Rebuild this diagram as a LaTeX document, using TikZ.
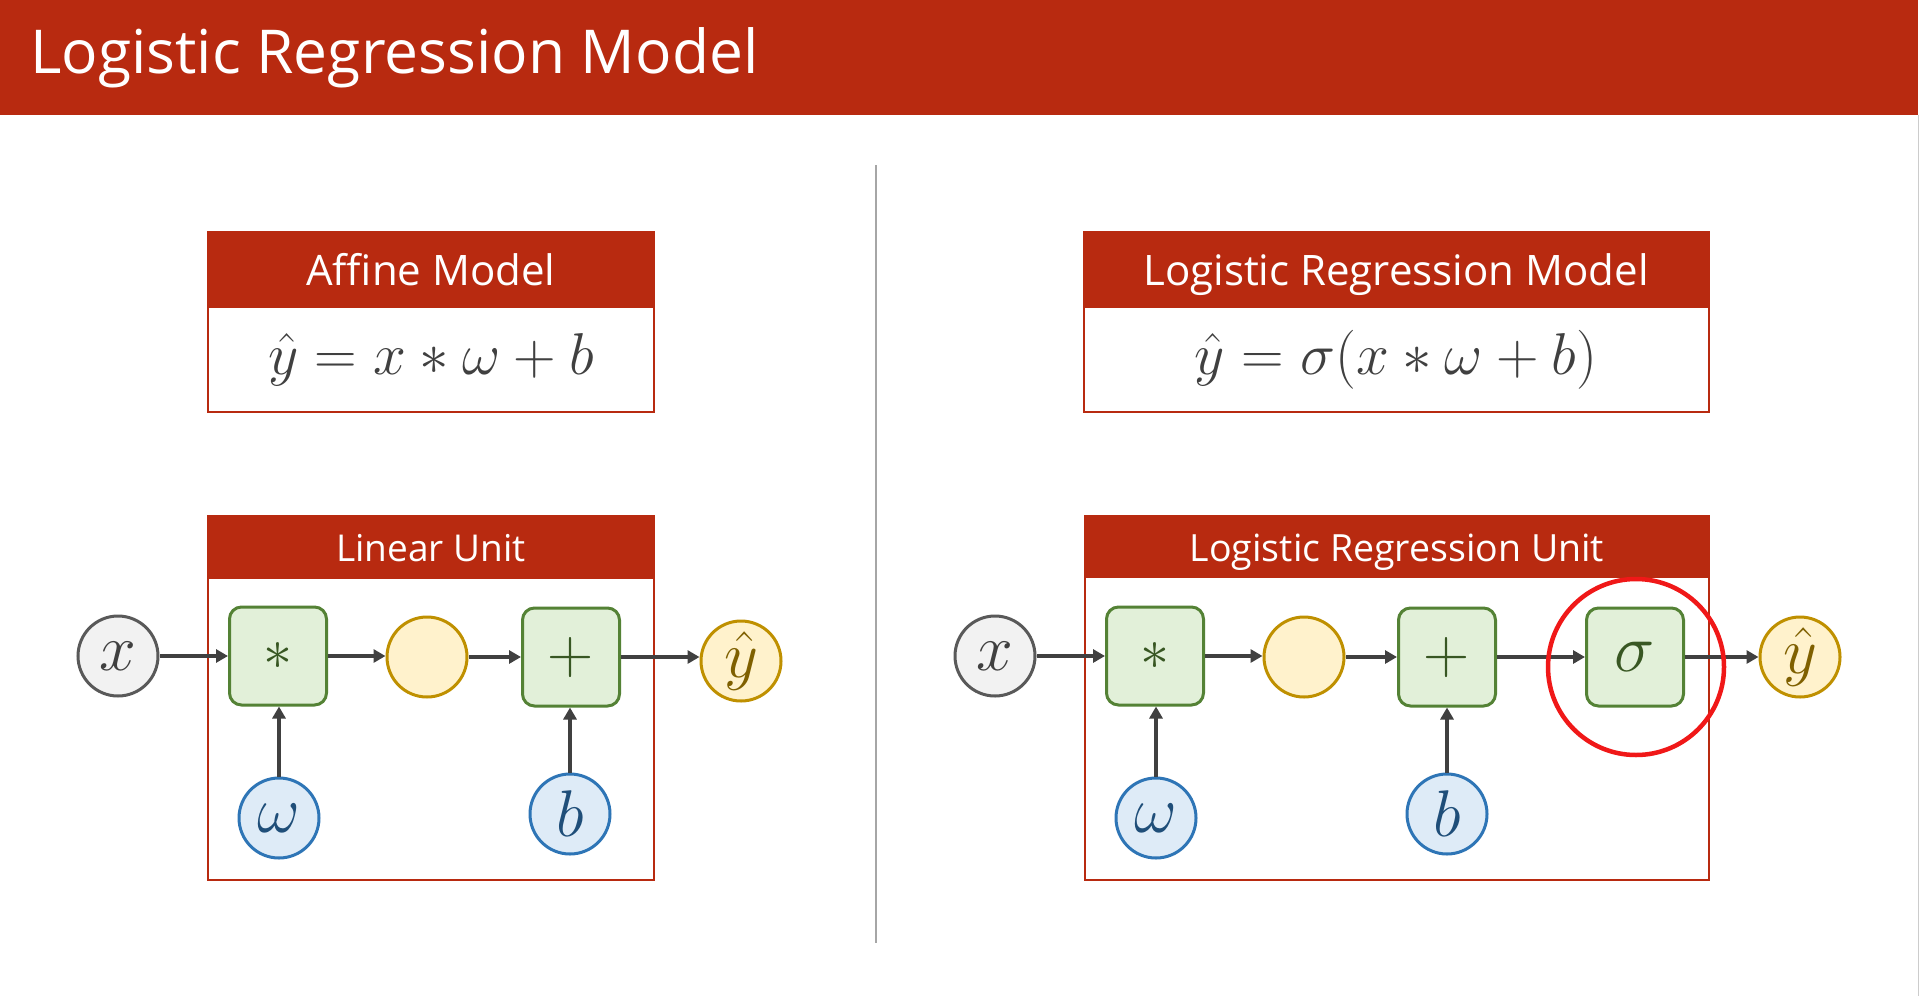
\RequirePackage{fix-cm}
\documentclass[tikz,border=0pt]{standalone}
\usepackage[no-math]{fontspec}
\setmainfont{Open Sans}
\usetikzlibrary{arrows.meta}
\definecolor{hdr}{RGB}{184,42,16}
\definecolor{hl}{RGB}{240,24,24}
\definecolor{arrowc}{RGB}{64,64,64}
\definecolor{grayb}{RGB}{89,89,89}
\definecolor{grayf}{RGB}{242,242,242}
\definecolor{grayt}{RGB}{64,64,64}
\definecolor{greenb}{RGB}{84,130,53}
\definecolor{greenf}{RGB}{226,240,217}
\definecolor{greent}{RGB}{56,87,35}
\definecolor{yelb}{RGB}{191,144,0}
\definecolor{yelf}{RGB}{255,242,204}
\definecolor{yelt}{RGB}{127,96,0}
\definecolor{blueb}{RGB}{46,117,182}
\definecolor{bluef}{RGB}{222,235,247}
\definecolor{bluet}{RGB}{31,78,121}
\definecolor{divc}{RGB}{166,166,166}
\begin{document}
\begin{tikzpicture}[x=1pt,y=-1pt,
  arr/.style={draw=arrowc, line width=3.2pt, -{Triangle[length=12pt,width=13pt]}},
  circ/.style={circle, minimum size=80pt, inner sep=0pt, line width=3pt, font=\fontsize{66}{70}\selectfont},
  gcirc/.style={circ, draw=grayb, fill=grayf, text=grayt},
  ycirc/.style={circ, draw=yelb, fill=yelf, text=yelt},
  bcirc/.style={circ, draw=blueb, fill=bluef, text=bluet},
  opbox/.style={rectangle, rounded corners=12pt, minimum width=97pt, minimum height=98pt, inner sep=0pt, line width=3pt, draw=greenb, fill=greenf, text=greent, font=\fontsize{64}{70}\selectfont},
  hdrtext/.style={anchor=base, text=white, inner sep=0pt},
  frame/.style={draw=hdr, line width=2.5pt},
  formula/.style={anchor=base, text=grayt, inner sep=0pt, font=\fontsize{59}{64}\selectfont}
]
\useasboundingbox (0,0) rectangle (1919,996);
\fill[white] (0,0) rectangle (1919,996);
% title bar
\fill[hdr] (0,0) rectangle (1918,115);
\draw[color=black!20, line width=1pt] (1918.5,115) -- (1918.5,996);
\node[anchor=base west, text=white, inner sep=0pt, font=\fontsize{60.5}{70}\selectfont] (title) at (30,73) {Logistic Regression Model};
% divider
\draw[divc, line width=1.5pt] (876,165) -- (876,943);

% ---------- top left box
\fill[hdr] (208,232) rectangle (654,308);
\draw[frame] (208,232) rectangle (654,412);
\node[hdrtext, font=\fontsize{42}{48}\selectfont] (affh) at (431,285) {Affine Model};
\node[formula] (afff) at (431,374) {$\hat{y} = x \ast \omega + b$};

% ---------- top right box
\fill[hdr] (1084,232) rectangle (1709,308);
\draw[frame] (1084,232) rectangle (1709,412);
\node[hdrtext, font=\fontsize{42}{48}\selectfont] (logh) at (1396,285) {Logistic Regression Model};
\node[formula] (logf) at (1396,374) {$\hat{y} = \sigma(x \ast \omega + b)$};

% ---------- linear unit
\fill[hdr] (208,516) rectangle (654,579);
\draw[frame] (208,516) rectangle (654,880);
\node[hdrtext, font=\fontsize{37}{44}\selectfont] (linh) at (431,561) {Linear Unit};

\node[gcirc] (lx) at (118,656) {$x$};
\node[opbox, font=\fontsize{58}{60}\selectfont] (lmul) at (278,656) {$\ast$};
\node[ycirc] (lmid) at (427,657) {};
\node[opbox] (lplus) at (571,657) {$+$};
\node[ycirc] (ly) at (741,661) {$\hat{y}$};
\node[bcirc] (lw) at (279,818) {$\omega$};
\node[bcirc] (lb) at (570,814) {$b$};

\draw[arr] (lx.east) -- (lmul.west);
\draw[arr] (lmul.east) -- (lmul.east -| lmid.west);
\draw[arr] (lmid.east) -- (lmid.east -| lplus.west);
\draw[arr] (lplus.east) -- (lplus.east -| ly.west);
\draw[arr] (lw.north) -- (lw.north |- lmul.south);
\draw[arr] (lb.north) -- (lb.north |- lplus.south);

% ---------- logistic regression unit
\fill[hdr] (1085,516) rectangle (1709,578);
\draw[frame] (1085,516) rectangle (1709,880);
\node[hdrtext, font=\fontsize{37.5}{44}\selectfont] (logu) at (1397,561) {Logistic Regression Unit};

\node[gcirc] (rx) at (995,656) {$x$};
\node[opbox, font=\fontsize{58}{60}\selectfont] (rmul) at (1155,656) {$\ast$};
\node[ycirc] (rmid) at (1304,657) {};
\node[opbox] (rplus) at (1447,657) {$+$};
\node[opbox, font=\fontsize{68}{70}\selectfont] (rsig) at (1635,657) {$\sigma$};
\node[ycirc] (ry) at (1800,657) {$\hat{y}$};
\node[bcirc] (rw) at (1156,818) {$\omega$};
\node[bcirc] (rb) at (1447,814) {$b$};

\draw[arr] (rx.east) -- (rmul.west);
\draw[arr] (rmul.east) -- (rmul.east -| rmid.west);
\draw[arr] (rmid.east) -- (rmid.east -| rplus.west);
\draw[arr] (rplus.east) -- (rplus.east -| rsig.west);
\draw[arr] (rsig.east) -- (rsig.east -| ry.west);
\draw[arr] (rw.north) -- (rw.north |- rmul.south);
\draw[arr] (rb.north) -- (rb.north |- rplus.south);

\node[circle, draw=hl, line width=4.5pt, minimum size=176pt, inner sep=0pt] (hlc) at (1636,667) {};
\end{tikzpicture}
\end{document}
